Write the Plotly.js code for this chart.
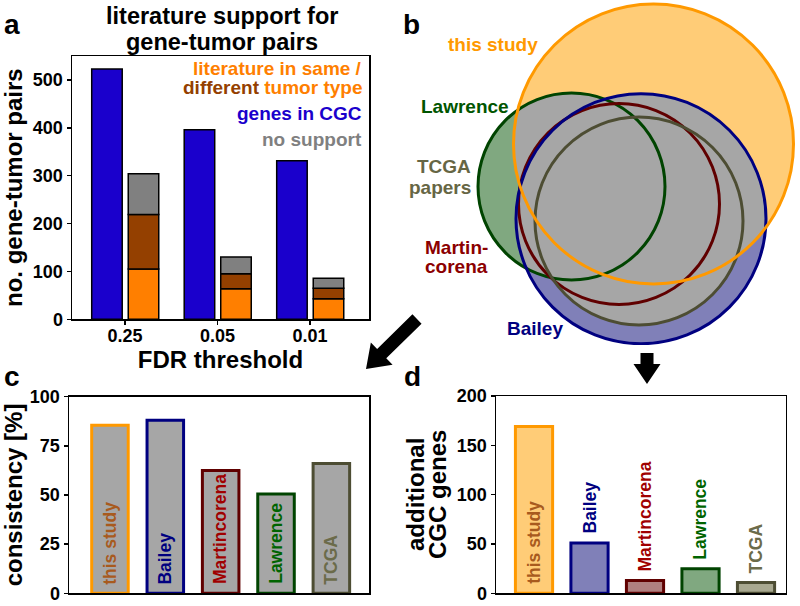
<!DOCTYPE html>
<html><head><meta charset="utf-8">
<script src="https://cdn.plot.ly/plotly-3.0.1.min.js"></script>
<style>html,body{margin:0;padding:0;background:#fff}#chart{width:800px;height:606px}</style>
</head><body><div id="chart"></div>
<script>
// ---------- Panel a data ----------
const fdrLabels = ['0.25', '0.05', '0.01'];
const cgcGenes = [523, 396, 331];
const litSameTumor = [105, 64, 43];
const litDifferentTumor = [114, 31, 22];
const noSupport = [85, 35, 21];

// ---------- Panels c / d data ----------
const methods = ['this study', 'Bailey', 'Martincorena', 'Lawrence', 'TCGA'];
const consistencyPct = [85.5, 88, 62.5, 50.5, 66];
const additionalCGC = [169, 51, 13, 25, 11];

// ---------- Panel b (Venn) ----------
const vennNames = ['this study', 'Lawrence', 'Bailey', 'Martincorena', 'TCGA'];
const vennCx = [653.5, 571.5, 641, 619, 639];
const vennCy = [144, 186.5, 218.7, 204, 221];
const vennR = [140, 93.5, 125, 100.5, 104];

// ---------- styles ----------
const F = 'Liberation Sans, Arial, Helvetica, sans-serif';
const W = 800, H = 606;
const px = x => x / W, py = y => 1 - y / H;

const lineColors = {'this study': '#ff9900', 'Bailey': '#000080', 'Martincorena': '#600000', 'Lawrence': '#004400', 'TCGA': '#4d4d33'};
const fillColors = {'this study': '#ffcc77', 'Bailey': '#8080b8', 'Martincorena': '#b08080', 'Lawrence': '#80a880', 'TCGA': '#a8a890'};
const textColors = {'this study': '#a85a1e', 'Bailey': '#000080', 'Martincorena': '#a00000', 'Lawrence': '#006400', 'TCGA': '#6b6b4a'};
const labelColors = {'this study': '#ff9900', 'Bailey': '#000080', 'Martincorena': '#8b0000', 'Lawrence': '#005500', 'TCGA': '#666644'};
const grayOverlap = '#a6a6a6';

const traces = [];
// Panel a bars
const xa = fdrLabels.map((_, i) => i);
const barLine = {color: '#000', width: 1.5};
traces.push({type: 'bar', x: xa, y: cgcGenes, width: 0.33, offset: -0.36, marker: {color: '#1a00cc', line: barLine}, xaxis: 'x', yaxis: 'y', hoverinfo: 'skip'});
const base2 = litSameTumor.map((v, i) => v + litDifferentTumor[i]);
traces.push({type: 'bar', x: xa, y: litSameTumor, base: litSameTumor.map(() => 0), width: 0.33, offset: 0.035, marker: {color: '#ff7f00', line: barLine}, xaxis: 'x', yaxis: 'y', hoverinfo: 'skip'});
traces.push({type: 'bar', x: xa, y: litDifferentTumor, base: litSameTumor, width: 0.33, offset: 0.035, marker: {color: '#944000', line: barLine}, xaxis: 'x', yaxis: 'y', hoverinfo: 'skip'});
traces.push({type: 'bar', x: xa, y: noSupport, base: base2, width: 0.33, offset: 0.035, marker: {color: '#808080', line: barLine}, xaxis: 'x', yaxis: 'y', hoverinfo: 'skip'});

// Panel c bars
traces.push({type: 'bar', x: methods, y: consistencyPct, width: 0.66, xaxis: 'x2', yaxis: 'y2',
  marker: {color: grayOverlap, line: {color: methods.map(m => lineColors[m]), width: 3}}, hoverinfo: 'skip'});

// Panel d bars
traces.push({type: 'bar', x: methods, y: additionalCGC, width: 0.67, xaxis: 'x3', yaxis: 'y3',
  marker: {color: methods.map(m => fillColors[m]), line: {color: methods.map(m => lineColors[m]), width: 3}}, hoverinfo: 'skip'});

// Panel b: gray overlaps (pairwise intersections)
function lens(i, j) {
  const N = 360, pts = [];
  const inside = (x, y, k) => Math.hypot(x - vennCx[k], y - vennCy[k]) <= vennR[k] + 1e-9;
  for (const [a, b] of [[i, j], [j, i]]) {
    for (let n = 0; n < N; n++) {
      const t = 2 * Math.PI * n / N;
      const x = vennCx[a] + vennR[a] * Math.cos(t), y = vennCy[a] + vennR[a] * Math.sin(t);
      if (inside(x, y, b)) pts.push([x, y]);
    }
  }
  if (pts.length < 3) return null;
  const mx = pts.reduce((s, p) => s + p[0], 0) / pts.length, my = pts.reduce((s, p) => s + p[1], 0) / pts.length;
  pts.sort((p, q) => Math.atan2(p[1] - my, p[0] - mx) - Math.atan2(q[1] - my, q[0] - mx));
  return pts;
}
for (let i = 0; i < vennNames.length; i++) {
  for (let j = i + 1; j < vennNames.length; j++) {
    const p = lens(i, j);
    if (!p) continue;
    traces.push({type: 'scatter', mode: 'lines', x: p.map(q => q[0]).concat([p[0][0]]), y: p.map(q => q[1]).concat([p[0][1]]),
      fill: 'toself', fillcolor: grayOverlap, line: {color: grayOverlap, width: 0.5}, xaxis: 'x4', yaxis: 'y4', hoverinfo: 'skip'});
  }
}

const shapes = [];
vennNames.forEach((n, k) => {
  shapes.push({type: 'circle', xref: 'x4', yref: 'y4', x0: vennCx[k] - vennR[k], x1: vennCx[k] + vennR[k], y0: vennCy[k] - vennR[k], y1: vennCy[k] + vennR[k],
    fillcolor: fillColors[n], line: {width: 0}, layer: 'below'});
});
['Lawrence', 'Martincorena', 'TCGA', 'Bailey', 'this study'].forEach(n => {
  const k = vennNames.indexOf(n);
  shapes.push({type: 'circle', xref: 'x4', yref: 'y4', x0: vennCx[k] - vennR[k], x1: vennCx[k] + vennR[k], y0: vennCy[k] - vennR[k], y1: vennCy[k] + vennR[k],
    fillcolor: 'rgba(0,0,0,0)', line: {color: lineColors[n], width: 3}, layer: 'above'});
});

// arrows
function arrowPath(x0, y0, x1, y1, shaftW, headW, headL) {
  const dx = x1 - x0, dy = y1 - y0, L = Math.hypot(dx, dy), ux = dx / L, uy = dy / L, nx = -uy, ny = ux;
  const bx = x1 - ux * headL, by = y1 - uy * headL;
  const pts = [[x0 + nx * shaftW / 2, y0 + ny * shaftW / 2], [bx + nx * shaftW / 2, by + ny * shaftW / 2], [bx + nx * headW / 2, by + ny * headW / 2],
    [x1, y1], [bx - nx * headW / 2, by - ny * headW / 2], [bx - nx * shaftW / 2, by - ny * shaftW / 2], [x0 - nx * shaftW / 2, y0 - ny * shaftW / 2]];
  return 'M' + pts.map(p => px(p[0]).toFixed(5) + ',' + py(p[1]).toFixed(5)).join('L') + 'Z';
}
shapes.push({type: 'path', xref: 'paper', yref: 'paper', path: arrowPath(417, 319, 366, 369, 13, 31, 22), fillcolor: '#000', line: {width: 0}});
shapes.push({type: 'path', xref: 'paper', yref: 'paper', path: arrowPath(647, 353, 647, 384, 13, 27, 20), fillcolor: '#000', line: {width: 0}});

// annotations
const ann = [];
function txt(text, x, y, size, color, xanchor = 'center', yanchor = 'middle', angle = 0) {
  ann.push({text, x: px(x), y: py(y), xref: 'paper', yref: 'paper', showarrow: false, xanchor, yanchor, textangle: angle,
    font: {family: F, size, color, weight: 'bold'}});
}
txt('a', 12, 24, 28, '#000');
txt('b', 411, 24, 28, '#000');
txt('c', 12, 376, 28, '#000');
txt('d', 412, 376, 28, '#000');
txt('literature support for', 222, 16, 23.5, '#000');
txt('gene-tumor pairs', 222, 41.5, 23.5, '#000');
txt('literature in same /', 364, 68, 19, '#ff7f00', 'right');
txt('<span style="color:#944000">different</span> tumor type', 364, 87, 19, '#ff7f00', 'right');
txt('genes in CGC', 364, 114, 19, '#1a00cc', 'right');
txt('no support', 364, 139, 19, '#808080', 'right');
// Venn labels
txt('this study', 493, 45, 19, labelColors['this study']);
txt('Lawrence', 465, 106, 19, labelColors['Lawrence']);
txt('TCGA', 473, 166, 19, labelColors['TCGA'], 'right');
txt('papers', 473, 187, 19, labelColors['TCGA'], 'right');
txt('Martin-', 490, 247, 19, labelColors['Martincorena'], 'right');
txt('corena', 490, 267, 19, labelColors['Martincorena'], 'right');
txt('Bailey', 535, 328, 19, labelColors['Bailey']);
// panel d y title (two tight lines)
txt('additional', 416, 495, 24, '#000', 'center', 'middle', -90);
txt('CGC genes', 438, 495, 24, '#000', 'center', 'middle', -90);

// bar labels in c and d (rotated, reading upward)
methods.forEach((m, i) => {
  ann.push({text: m, x: m, y: 0, xref: 'x2', yref: 'y2', showarrow: false, textangle: -90, xanchor: 'center', yanchor: 'bottom', yshift: 7,
    font: {family: F, size: 17.5, color: textColors[m], weight: 'bold'}});
  const inside = i === 0;
  ann.push({text: m, x: m, y: inside ? 0 : additionalCGC[i], xref: 'x3', yref: 'y3', showarrow: false, textangle: -90, xanchor: 'center', yanchor: 'bottom',
    yshift: 7, font: {family: F, size: 17.5, color: textColors[m], weight: 'bold'}});
});

const axBase = {showline: true, linecolor: '#000', linewidth: 1.5, mirror: true, ticks: 'outside', ticklen: 4, tickwidth: 1.5, tickcolor: '#000',
  tickfont: {family: F, size: 18, weight: 'bold', color: '#000'}, showgrid: false, zeroline: false, fixedrange: true};
const titleFont = {family: F, size: 24, weight: 'bold', color: '#000'};

const layout = {
  width: W, height: H, margin: {l: 0, r: 0, t: 0, b: 0}, paper_bgcolor: '#fff', plot_bgcolor: 'rgba(0,0,0,0)',
  showlegend: false, barmode: 'overlay', font: {family: F},
  xaxis: Object.assign({}, axBase, {domain: [px(72), px(369)], range: [-0.573, 2.638], tickvals: xa, ticktext: fdrLabels, anchor: 'y',
    ticklabelstandoff: -4, title: {text: 'FDR threshold', font: titleFont, standoff: 0}}),
  yaxis: Object.assign({}, axBase, {domain: [py(319.3), py(56)], range: [0, 550], tickvals: [0, 100, 200, 300, 400, 500], anchor: 'x',
    title: {text: 'no. gene-tumor pairs', font: titleFont, standoff: 4}}),
  xaxis2: Object.assign({}, axBase, {domain: [px(69), px(369)], range: [-0.74, 4.68], ticks: '', showticklabels: false, anchor: 'y2', type: 'category'}),
  yaxis2: Object.assign({}, axBase, {domain: [py(593.3), py(396.7)], range: [0, 100], tickvals: [0, 25, 50, 75, 100], anchor: 'x2',
    title: {text: 'consistency [%]', font: titleFont, standoff: 4}}),
  xaxis3: Object.assign({}, axBase, {domain: [px(496), px(785.7)], range: [-0.685, 4.535], ticks: '', showticklabels: false, anchor: 'y3', type: 'category'}),
  yaxis3: Object.assign({}, axBase, {domain: [py(593.3), py(396)], range: [0, 200], tickvals: [0, 50, 100, 150, 200], anchor: 'x3'}),
  xaxis4: {domain: [0.5, 1], range: [400, 800], visible: false, fixedrange: true, anchor: 'y4'},
  yaxis4: {domain: [py(345), 1], range: [345, 0], visible: false, fixedrange: true, anchor: 'x4'},
  shapes, annotations: ann
};

Plotly.newPlot('chart', traces, layout, {staticPlot: true, displayModeBar: false});
</script></body></html>
